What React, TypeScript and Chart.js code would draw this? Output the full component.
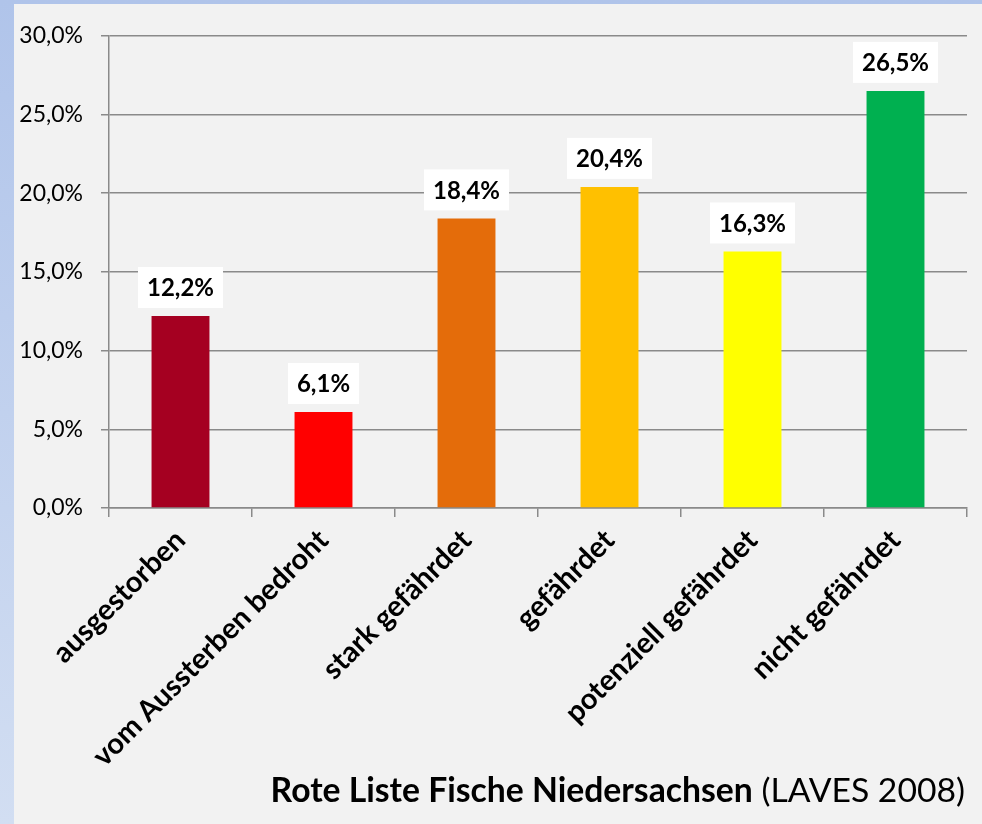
import React, { useEffect, useRef } from "react";
import { Chart, registerables } from "chart.js";

Chart.register(...registerables);

const categories = [
  "ausgestorben",
  "vom Aussterben bedroht",
  "stark gefährdet",
  "gefährdet",
  "potenziell gefährdet",
  "nicht gefährdet",
];
const values = [12.2, 6.1, 18.4, 20.4, 16.3, 26.5];
const barColors = ["#a50021", "#ff0000", "#e46c0a", "#ffc000", "#ffff00", "#00b050"];
const yTicks = [0, 5, 10, 15, 20, 25, 30];
const titleBold = "Rote Liste Fische Niedersachsen";
const titleNormal = " (LAVES 2008)";

const FONT = "Lato, 'Open Sans', sans-serif";
const fmt = (v: number) => v.toFixed(1).replace(".", ",") + "%";

const dataLabelPlugin = {
  id: "dataLabels",
  afterDatasetsDraw(chart: any) {
    const ctx = chart.ctx;
    const meta = chart.getDatasetMeta(0);
    ctx.save();
    ctx.font = `bold 24px ${FONT}`;
    ctx.textAlign = "center";
    ctx.textBaseline = "middle";
    meta.data.forEach((el: any, i: number) => {
      const text = fmt(values[i]);
      const w = ctx.measureText(text).width + 18;
      const h = 41;
      const bottom = el.y - 8;
      ctx.fillStyle = "#ffffff";
      ctx.fillRect(el.x - w / 2, bottom - h, w, h);
      ctx.fillStyle = "#000000";
      ctx.fillText(text, el.x, bottom - h / 2 + 1);
    });
    ctx.restore();
  },
};

const titlePlugin = {
  id: "bottomTitle",
  afterDraw(chart: any) {
    const ctx = chart.ctx;
    ctx.save();
    ctx.textBaseline = "alphabetic";
    ctx.textAlign = "left";
    ctx.fillStyle = "#000000";
    ctx.font = `33.7px ${FONT}`;
    const wN = ctx.measureText(titleNormal).width;
    ctx.font = `bold 33.7px ${FONT}`;
    const wB = ctx.measureText(titleBold).width;
    const right = 951;
    const y = 798;
    const x0 = right - wN - wB;
    ctx.fillText(titleBold, x0, y);
    ctx.font = `33.7px ${FONT}`;
    ctx.fillText(titleNormal, x0 + wB, y);
    ctx.restore();
  },
};

export default function App() {
  const ref = useRef<HTMLCanvasElement | null>(null);

  useEffect(() => {
    if (!ref.current) return;
    const gridColor = "#8a8a8a";
    const chart = new Chart(ref.current, {
      type: "bar",
      data: {
        labels: categories,
        datasets: [
          {
            data: values,
            backgroundColor: barColors,
            borderWidth: 0,
            categoryPercentage: 1,
            barPercentage: 0.405,
          },
        ],
      },
      options: {
        responsive: false,
        animation: false,
        maintainAspectRatio: false,
        layout: { padding: { top: 30, right: 15, left: 0, bottom: 0 } },
        plugins: {
          legend: { display: false },
          tooltip: { enabled: false },
          title: { display: false },
        },
        scales: {
          x: {
            grid: {
              display: true,
              drawOnChartArea: false,
              offset: true,
              tickLength: 9,
              color: gridColor,
              lineWidth: 1.5,
            },
            border: { color: gridColor, width: 1.5 },
            ticks: {
              color: "#000000",
              font: { family: FONT, size: 29, weight: "bold" },
              maxRotation: 45,
              minRotation: 45,
              autoSkip: false,
              padding: 6,
            },
            afterFit: (scale: any) => {
              scale.height = 316;
            },
          },
          y: {
            min: 0,
            max: 30,
            afterBuildTicks: (scale: any) => {
              scale.ticks = yTicks.map((v) => ({ value: v }));
            },
            grid: {
              color: gridColor,
              lineWidth: 1.5,
              tickLength: 8,
            },
            border: { color: gridColor, width: 1.5 },
            ticks: {
              color: "#000000",
              font: { family: FONT, size: 23 },
              padding: 18,
              callback: (v: any) => fmt(Number(v)),
            },
            afterFit: (scale: any) => {
              scale.width = 95;
            },
          },
        },
      },
      plugins: [dataLabelPlugin, titlePlugin],
    });
    return () => chart.destroy();
  }, []);

  return (
    <div
      style={{
        position: "fixed",
        left: 0,
        top: 0,
        width: 982,
        height: 824,
        background: "linear-gradient(180deg, #b0c4ea 0%, #d2def2 100%)",
      }}
    >
      <div
        style={{
          position: "absolute",
          left: 14,
          top: 4,
          width: 968,
          height: 820,
          background: "#f2f2f2",
        }}
      >
        <canvas ref={ref} width={968} height={820} style={{ display: "block" }} />
      </div>
    </div>
  );
}
